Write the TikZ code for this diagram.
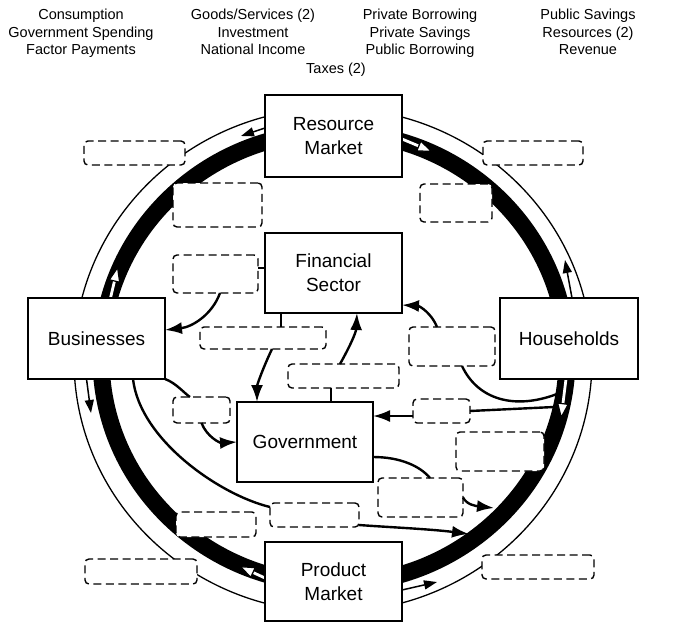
\documentclass[tikz,border=0pt]{standalone}
\usepackage{fontspec}
\setmainfont{Liberation Sans}
\usetikzlibrary{arrows.meta}
\pgfdeclarelayer{bg}
\pgfsetlayers{bg,main}
\begin{document}
\begin{tikzpicture}[x=1pt,y=-1pt,
  box/.style={draw, line width=2.8pt, fill=white, anchor=north west, inner sep=0pt, outer sep=0pt, align=center, font=\fontsize{19}{24}\selectfont},
  dbox/.style={draw, line width=1.4pt, dash pattern=on 8pt off 4.5pt, rounded corners=4pt, fill=white, anchor=north west, inner sep=0pt, outer sep=0pt},
  conn/.style={line width=2.4pt},
  arr/.style={conn, -{Latex[length=17pt,width=12pt]}},
  blk/.style={line width=1.5pt, -{Triangle[length=13pt,width=9pt]}},
  whtunder/.style={line width=5.5pt, shorten >=11pt},
  wht/.style={white, line width=2.8pt, -{Triangle[length=16pt,width=12pt,color=black,fill=white,line width=1.2pt]}},
  toptext/.style={anchor=north, align=center, inner sep=0pt, font=\fontsize{14.5}{17.6}\selectfont},
]
\useasboundingbox (0,0) rectangle (688,623);

% top word bank
\node[toptext] (t1) at (81,9) {Consumption\\Government Spending\\Factor Payments};
\node[toptext] (t2) at (253,9) {Goods/Services (2)\\Investment\\National Income};
\node[toptext] (t3) at (420,9) {Private Borrowing\\Private Savings\\Public Borrowing};
\node[toptext] (t4) at (588,9) {Public Savings\\Resources (2)\\Revenue};
\node[toptext] (t5) at (336,63) {Taxes (2)};

% solid boxes
\node[box, minimum width=137pt, minimum height=82pt] (RM) at (265,95) {Resource\\Market};
\node[box, minimum width=137pt, minimum height=80pt] (FS) at (265,233) {Financial\\Sector};
\node[box, minimum width=137pt, minimum height=81pt] (BU) at (28,298) {Businesses};
\node[box, minimum width=138pt, minimum height=81pt] (HH) at (500,298) {Households};
\node[box, minimum width=136pt, minimum height=80pt] (GV) at (237,402) {Government};
\node[box, minimum width=137pt, minimum height=79pt] (PM) at (265,542) {Product\\Market};

% dashed answer boxes
\node[dbox, minimum width=101pt, minimum height=24pt] (d1) at (84,141) {};
\node[dbox, minimum width=100pt, minimum height=24pt] (d2) at (483,141) {};
\node[dbox, minimum width=89pt, minimum height=44pt] (d3) at (173,183) {};
\node[dbox, minimum width=72pt, minimum height=38pt] (d4) at (420,184) {};
\node[dbox, minimum width=85pt, minimum height=38pt] (d5) at (173,255) {};
\node[dbox, minimum width=126pt, minimum height=22pt] (d6) at (200,327) {};
\node[dbox, minimum width=111pt, minimum height=24pt] (d7) at (288,364) {};
\node[dbox, minimum width=86pt, minimum height=39pt] (d8) at (409,327) {};
\node[dbox, minimum width=57pt, minimum height=24pt] (d9) at (413,399) {};
\node[dbox, minimum width=88pt, minimum height=39pt] (d10) at (456,432) {};
\node[dbox, minimum width=85pt, minimum height=39pt] (d11) at (378,478) {};
\node[dbox, minimum width=89pt, minimum height=24pt] (d12) at (270,503) {};
\node[dbox, minimum width=80pt, minimum height=25pt] (d13) at (176,512) {};
\node[dbox, minimum width=112pt, minimum height=25pt] (d14) at (85,559) {};
\node[dbox, minimum width=112pt, minimum height=24pt] (d15) at (482,555) {};
\node[dbox, minimum width=57pt, minimum height=26pt] (d16) at (173,397) {};

% free ends on the ring
\coordinate (ba1) at (241,136);
\coordinate (ba2) at (91,413);
\coordinate (ba3) at (437,582);
\coordinate (ba4) at (565,260);
\coordinate (wa1) at (433,152);
\coordinate (wa2) at (561,419);
\coordinate (wa3) at (239,566);
\coordinate (wa4) at (118,266);
\coordinate (r8) at (557,394);
\coordinate (r9) at (554,407);
\coordinate (r14) at (469,534);
\coordinate (r16) at (494,508);

\begin{pgfonlayer}{bg}
  \fill[white] (0,0) rectangle (688,623);
  \draw[line width=1.3pt] (333,360) ellipse [x radius=259pt, y radius=252pt];
  \draw[line width=17pt] (334,358) ellipse [x radius=233pt, y radius=226pt];
  % outer (counter-clockwise) flow arrows
  \draw[blk] ([yshift=8pt]RM.west) -- (ba1);
  \draw[blk] ([xshift=-10pt]BU.south) -- (ba2);
  \draw[blk] ([yshift=-8.5pt]PM.east) -- (ba3);
  \draw[blk] ([xshift=3pt]HH.north) -- (ba4);
  % inner (clockwise) flow arrows
  \draw[whtunder] ([yshift=-3pt]RM.east) -- (wa1);
  \draw[wht] ([yshift=-3pt]RM.east) -- (wa1);
  \draw[whtunder] ([xshift=-3pt]HH.south) -- (wa2);
  \draw[wht] ([xshift=-3pt]HH.south) -- (wa2);
  \draw[whtunder] ([yshift=3.5pt]PM.west) -- (wa3);
  \draw[wht] ([yshift=3.5pt]PM.west) -- (wa3);
  \draw[whtunder] ([xshift=14pt]BU.north) -- (wa4);
  \draw[wht] ([xshift=14pt]BU.north) -- (wa4);
\end{pgfonlayer}

% connectors
\draw[arr] ([xshift=4.5pt]d5.south) .. controls (212,315) and (192,327) .. ([yshift=8.5pt]BU.east);
\draw[conn] ([yshift=5pt]FS.west) -- ([yshift=6pt]d5.east);
\draw[conn] ([xshift=-52.5pt]FS.south) -- ([xshift=18pt]d6.north);
\draw[arr] ([xshift=9pt]d6.south) .. controls (263,368) and (257,385) .. ([xshift=-48pt]GV.north);
\draw[arr] ([xshift=-3.5pt]d7.north) .. controls (349,348) and (356,333) .. ([xshift=23.5pt]FS.south);
\draw[conn] ([xshift=26pt]GV.north) -- ([xshift=-12.5pt]d7.south);
\draw[arr] ([xshift=-15pt]d8.north) .. controls (432,314) and (420,306) .. ([yshift=-32pt]FS.east);
\draw[conn] ([xshift=10pt]d8.south) .. controls (478,400) and (515,410) .. (r8);
\draw[conn] (d9.east) -- (r9);
\draw[arr] ([yshift=-5pt]d9.west) -- ([yshift=26pt]GV.east);
\draw[conn] (BU.south east) .. controls (176,383) and (184,393) .. ([xshift=-11.5pt]d16.north);
\draw[arr] (d16.south) .. controls (207,437) and (220,443) .. (GV.west);
\draw[conn] ([xshift=36.5pt]BU.south) .. controls (140,440) and (220,495) .. ([yshift=8pt]d12.west);
\draw[arr] ([yshift=-10pt]d12.east) .. controls (385,527) and (430,529) .. (r14);
\draw[conn] ([yshift=-15pt]GV.east) .. controls (400,457) and (420,466) .. ([xshift=9.5pt]d11.north);
\draw[arr] (d11.east) .. controls (467,505) and (476,506) .. (r16);
\end{tikzpicture}
\end{document}
